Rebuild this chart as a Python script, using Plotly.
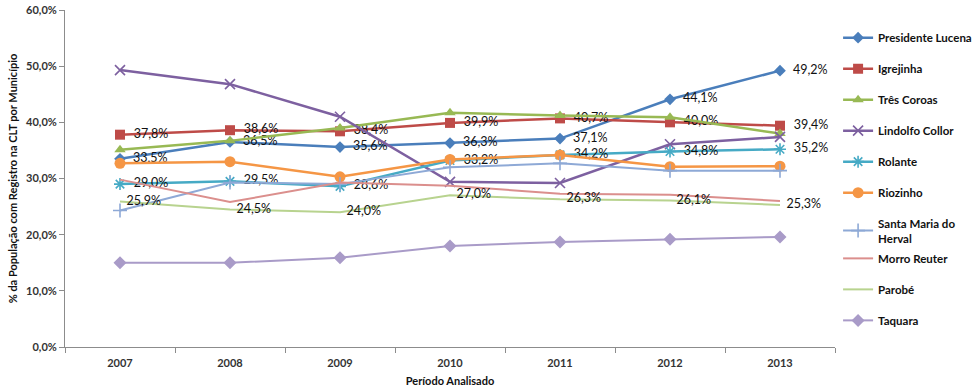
import plotly.graph_objects as go

# Employment with CLT registration (% of population) by municipality, 2007-2013
anos = ["2007", "2008", "2009", "2010", "2011", "2012", "2013"]

presidente_lucena = [33.5, 36.5, 35.6, 36.3, 37.1, 44.1, 49.2]
igrejinha = [37.8, 38.6, 38.4, 39.9, 40.7, 40.0, 39.4]
tres_coroas = [35.1, 36.7, 39.0, 41.7, 41.2, 40.9, 38.0]
lindolfo_collor = [49.3, 46.8, 41.0, 29.4, 29.2, 36.1, 37.4]
rolante = [29.0, 29.5, 28.6, 33.2, 34.2, 34.8, 35.2]
riozinho = [32.7, 33.0, 30.3, 33.4, 34.2, 32.1, 32.2]
santa_maria = [24.3, 29.3, 29.0, 32.0, 32.7, 31.4, 31.4]
morro_reuter = [29.8, 25.8, 29.3, 28.7, 27.3, 27.1, 26.0]
parobe = [25.9, 24.5, 24.0, 27.0, 26.3, 26.1, 25.3]
taquara = [15.0, 15.0, 15.9, 18.0, 18.7, 19.2, 19.6]

y_ticks = [0, 10, 20, 30, 40, 50, 60]
y_tick_labels = ["0,0%", "10,0%", "20,0%", "30,0%", "40,0%", "50,0%", "60,0%"]


def rotulo(v):
    return "  " + f"{v:.1f}".replace(".", ",") + "%"


# name, values, colour, marker symbol, marker size, line width, show labels, legend
series = [
    ("Presidente Lucena", presidente_lucena, "#4A7EBB", "diamond", 9, 2.5, True, "legend"),
    ("Igrejinha", igrejinha, "#BE4B48", "square", 10, 2.5, True, "legend"),
    ("Três Coroas", tres_coroas, "#98B954", "triangle-up", 10, 2.5, False, "legend"),
    ("Lindolfo Collor", lindolfo_collor, "#7D60A0", "x-thin", 10, 2.5, False, "legend"),
    ("Rolante", rolante, "#46AAC5", "asterisk", 10, 2.5, True, "legend"),
    ("Riozinho", riozinho, "#F59645", "circle", 11, 2.5, False, "legend"),
    ("Santa Maria do<br>Herval", santa_maria, "#8EA9D6", "cross-thin", 10, 2, False, "legend"),
    ("Morro Reuter", morro_reuter, "#DB8F8D", None, 0, 2, False, "legend2"),
    ("Parobé", parobe, "#B8D38F", None, 0, 2, True, "legend2"),
    ("Taquara", taquara, "#A99BC8", "diamond", 10, 2, False, "legend2"),
]

fig = go.Figure()
for i, (nome, valores, cor, simbolo, tam, lw, mostrar, leg) in enumerate(series):
    modo = "lines"
    marker = None
    if simbolo:
        modo += "+markers"
        marker = dict(symbol=simbolo, size=tam, color=cor,
                      line=dict(width=1.6 if "thin" in simbolo or simbolo == "asterisk" else 0, color=cor))
    kwargs = {}
    if mostrar:
        modo += "+text"
        kwargs = dict(text=[rotulo(v) for v in valores], textposition="middle right",
                      textfont=dict(family="Lato", size=12.5, color="#111111"))
    fig.add_trace(go.Scatter(
        x=anos, y=valores, name=nome, mode=modo,
        line=dict(color=cor, width=lw), marker=marker,
        legendgroup=f"g{i}", legend=leg, cliponaxis=False, **kwargs,
    ))

legend_font = dict(family="Lato", size=11.5, color="#111111", weight="bold")

fig.update_layout(
    width=979, height=389,
    margin=dict(l=65, r=144, t=10, b=42, autoexpand=False),
    paper_bgcolor="white", plot_bgcolor="white",
    font=dict(family="Lato", size=11, color="#333333"),
    showlegend=True,
    legend=dict(
        x=1.004, y=0.961, xanchor="left", yanchor="top",
        tracegroupgap=12, traceorder="grouped",
        font=legend_font, itemwidth=30, bgcolor="rgba(0,0,0,0)",
    ),
    legend2=dict(
        x=1.004, y=0.306, xanchor="left", yanchor="top",
        tracegroupgap=12, traceorder="grouped",
        font=legend_font, itemwidth=30, bgcolor="rgba(0,0,0,0)",
    ),
    xaxis=dict(
        type="category", range=[-0.5, 6.5], tickson="boundaries", automargin=False,
        ticks="outside", ticklen=5, tickcolor="#8C8C8C", ticklabelstandoff=6,
        showline=True, linecolor="#8C8C8C", linewidth=1, showgrid=False,
        tickfont=dict(family="Lato", size=11, color="#333333", weight="bold"),
        title=dict(text="Período Analisado", standoff=9,
                   font=dict(family="Lato", size=11, color="#111111", weight="bold")),
    ),
    yaxis=dict(
        range=[0, 60], tickvals=y_ticks, ticktext=y_tick_labels, automargin=False,
        ticks="outside", ticklen=5, tickcolor="#8C8C8C",
        showline=True, linecolor="#8C8C8C", linewidth=1, showgrid=False, zeroline=False,
        tickfont=dict(family="Lato", size=11, color="#333333", weight="bold"),
        title=dict(text="% da População com Registro na CLT por Município", standoff=6,
                   font=dict(family="Lato", size=11, color="#111111", weight="bold")),
    ),
)

fig.write_html("out.html")
